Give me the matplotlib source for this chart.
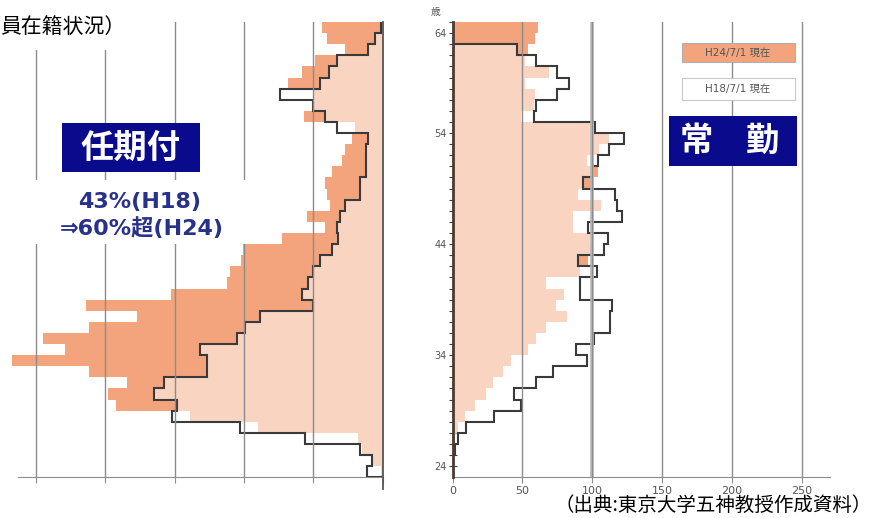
import matplotlib
matplotlib.use("Agg")
import matplotlib.pyplot as plt
from matplotlib.patches import Rectangle
import numpy as np

plt.rcParams['font.family'] = ['DejaVu Sans', 'Noto Sans CJK JP']

# one bar per age, each bar covers [age, age+1)
ages = np.arange(23, 64)

# 任期付 (fixed-term) head count per age
nin_h24 = [1, 8, 15, 17.6, 90, 139, 192, 198, 184.6, 212, 267.5, 229, 245, 212, 177,
           214, 153, 112.5, 110, 102, 100.5, 72.8, 41.6, 54.3, 38, 40.4, 41.6, 36.8,
           29.6, 27, 22.4, 20, 56.7, 50, 50, 68, 58.4, 48.8, 27, 40.4, 44]
nin_h18 = [11.5, 8, 16.4, 56, 103, 152, 148.5, 165, 158, 127, 127, 132, 105, 99, 88.5,
           50, 58, 53.6, 50, 45, 36.8, 32, 33, 30.8, 27, 16.3, 16.3, 12,
           12, 12, 10.3, 32.7, 41.6, 50, 74, 45, 39, 33, 10.3, 5.5, 1]

# 常勤 (permanent) head count per age
jo_h24 = [0, 0, 0.5, 1.5, 4, 8.6, 16, 24, 29, 36, 42, 54, 60, 67, 82,
          74, 80, 67, 91, 97, 100, 98, 86, 86, 106, 90, 99, 104,
          96, 105, 112, 100, 49, 58, 59, 52, 69, 52, 54, 58.7, 61]
jo_h18 = [0, 0, 2, 4, 10, 30, 49, 44, 60, 72, 96, 88, 101, 113, 113,
          114, 91, 91, 103, 90, 108, 111, 97, 121, 118, 116, 93, 100,
          104, 112, 123, 102, 58, 60, 75, 83, 75, 60, 46, 0, 0]

grid_vals = [50, 100, 150, 200, 250]
x_ticks = [0, 50, 100, 150, 200, 250]
y_tick_pos = [24, 34, 44, 54, 63]
y_tick_labels = ['24', '34', '44', '54', '64']

ORANGE = '#F3A47D'
NAVY = '#0A0A8C'
LINE = '#3A3A3A'
GRID = '#8C8C8C'
LABEL = '#555555'

W, H = 874, 518
fig = plt.figure(figsize=(W / 100, H / 100), dpi=100, facecolor='white')


def px_box(x0, y0, x1, y1):
    # pixel box (top-left origin) -> figure fraction rect
    return [x0 / W, 1 - y1 / H, (x1 - x0) / W, (y1 - y0) / H]


ax_l = fig.add_axes(px_box(0, 22, 382.7, 477.3))
ax_r = fig.add_axes(px_box(452.5, 22, 830, 477.3))

edges = np.append(ages, ages[-1] + 1)


def draw_panel(ax, h24, h18):
    ax.barh(ages, h24, height=1, align='edge', color=ORANGE, lw=0, zorder=2)
    # H18 drawn as half-transparent white -> overlap turns pale peach
    ax.barh(ages, h18, height=1, align='edge', color='white', alpha=0.53, lw=0, zorder=3)
    ax.stairs(h18, edges, orientation='horizontal', baseline=0,
              color=LINE, lw=1.5, zorder=4)
    for g in grid_vals:
        ax.axvline(g, color=GRID, lw=1, zorder=5)
    ax.set_ylim(23, 64)
    ax.set_facecolor('none')
    for s in ['top', 'right', 'left']:
        ax.spines[s].set_visible(False)
    ax.spines['bottom'].set_color(GRID)
    ax.set_xticks(x_ticks)
    ax.tick_params(axis='x', direction='out', length=4, color=GRID,
                   labelsize=8, labelcolor=LABEL, pad=2)


# left panel: fixed-term, bars grow to the left
draw_panel(ax_l, nin_h24, nin_h18)
ax_l.set_xlim(276, 0)
ax_l.spines['bottom'].set_bounds(263, 0)
ax_l.set_yticks([])
ax_l.tick_params(axis='x', labelbottom=False)
ax_l.axvline(0, ymin=-0.025, ymax=1, color='#555555', lw=1.3, clip_on=False, zorder=6)

# right panel: permanent
draw_panel(ax_r, jo_h24, jo_h18)
ax_r.axvline(100, color='#B5B5B5', lw=2.6, zorder=5)
ax_r.axvline(100, color=GRID, lw=0.8, zorder=5)
ax_r.set_xlim(0, 270)
ax_r.spines['left'].set_visible(True)
ax_r.spines['left'].set_color('#4B3B33')
ax_r.spines['left'].set_linewidth(2)
ax_r.spines['left'].set_zorder(6)
yt = list(range(24, 65))
ax_r.set_yticks(yt)
ax_r.set_yticklabels([y_tick_labels[y_tick_pos.index(t)] if t in y_tick_pos else '' for t in yt])
ax_r.tick_params(axis='y', direction='inout', length=6, width=0.8, color='#4B3B33',
                 labelsize=7, labelcolor=LABEL, pad=1)

# overlay for boxes and labels, in pixel units
ov = fig.add_axes([0, 0, 1, 1], zorder=10)
ov.set_xlim(0, W)
ov.set_ylim(H, 0)
ov.axis('off')

ov.add_patch(Rectangle((0, 0), 140, 50, facecolor='white', lw=0))
ov.add_patch(Rectangle((25, 180), 223, 64, facecolor='white', lw=0))
ov.add_patch(Rectangle((62, 123), 138, 49, facecolor=NAVY, lw=0))
ov.add_patch(Rectangle((669, 116), 128, 50, facecolor=NAVY, lw=0))
ov.add_patch(Rectangle((682, 43), 113, 19, facecolor=ORANGE, edgecolor='#B0B0B0', lw=0.8))
ov.add_patch(Rectangle((682, 78), 113, 22, facecolor='white', edgecolor='#C8C8C8', lw=0.8))

cjk = ['Noto Sans CJK JP', 'DejaVu Sans']
ov.text(0, 27, '員在籍状況）', fontsize=15, ha='left', va='center', family=cjk)
ov.text(131, 148, '任期付', color='white', fontsize=24, fontweight='bold',
        ha='center', va='center', family=cjk)
ov.text(696, 141, '常', color='white', fontsize=24, fontweight='bold',
        ha='center', va='center', family=cjk)
ov.text(763, 141, '勤', color='white', fontsize=24, fontweight='bold',
        ha='center', va='center', family=cjk)
ov.text(140, 202, '43%(H18)', color='#28328C', fontsize=16, fontweight='bold',
        ha='center', va='center')
ov.text(142, 228, '⇒60%超(H24)', color='#28328C', fontsize=16, fontweight='bold',
        ha='center', va='center')
ov.text(738, 52.5, 'H24/7/1 現在', fontsize=7.5, color=LABEL, ha='center', va='center')
ov.text(738, 89, 'H18/7/1 現在', fontsize=7.5, color=LABEL, ha='center', va='center')
ov.text(436, 12, '歳', fontsize=7, color=LABEL, ha='center', va='center', family=cjk)
ov.text(872, 505, '（出典:東京大学五神教授作成資料）', fontsize=14, ha='right',
        va='center', family=cjk)

fig.savefig('out.png', dpi=100)
